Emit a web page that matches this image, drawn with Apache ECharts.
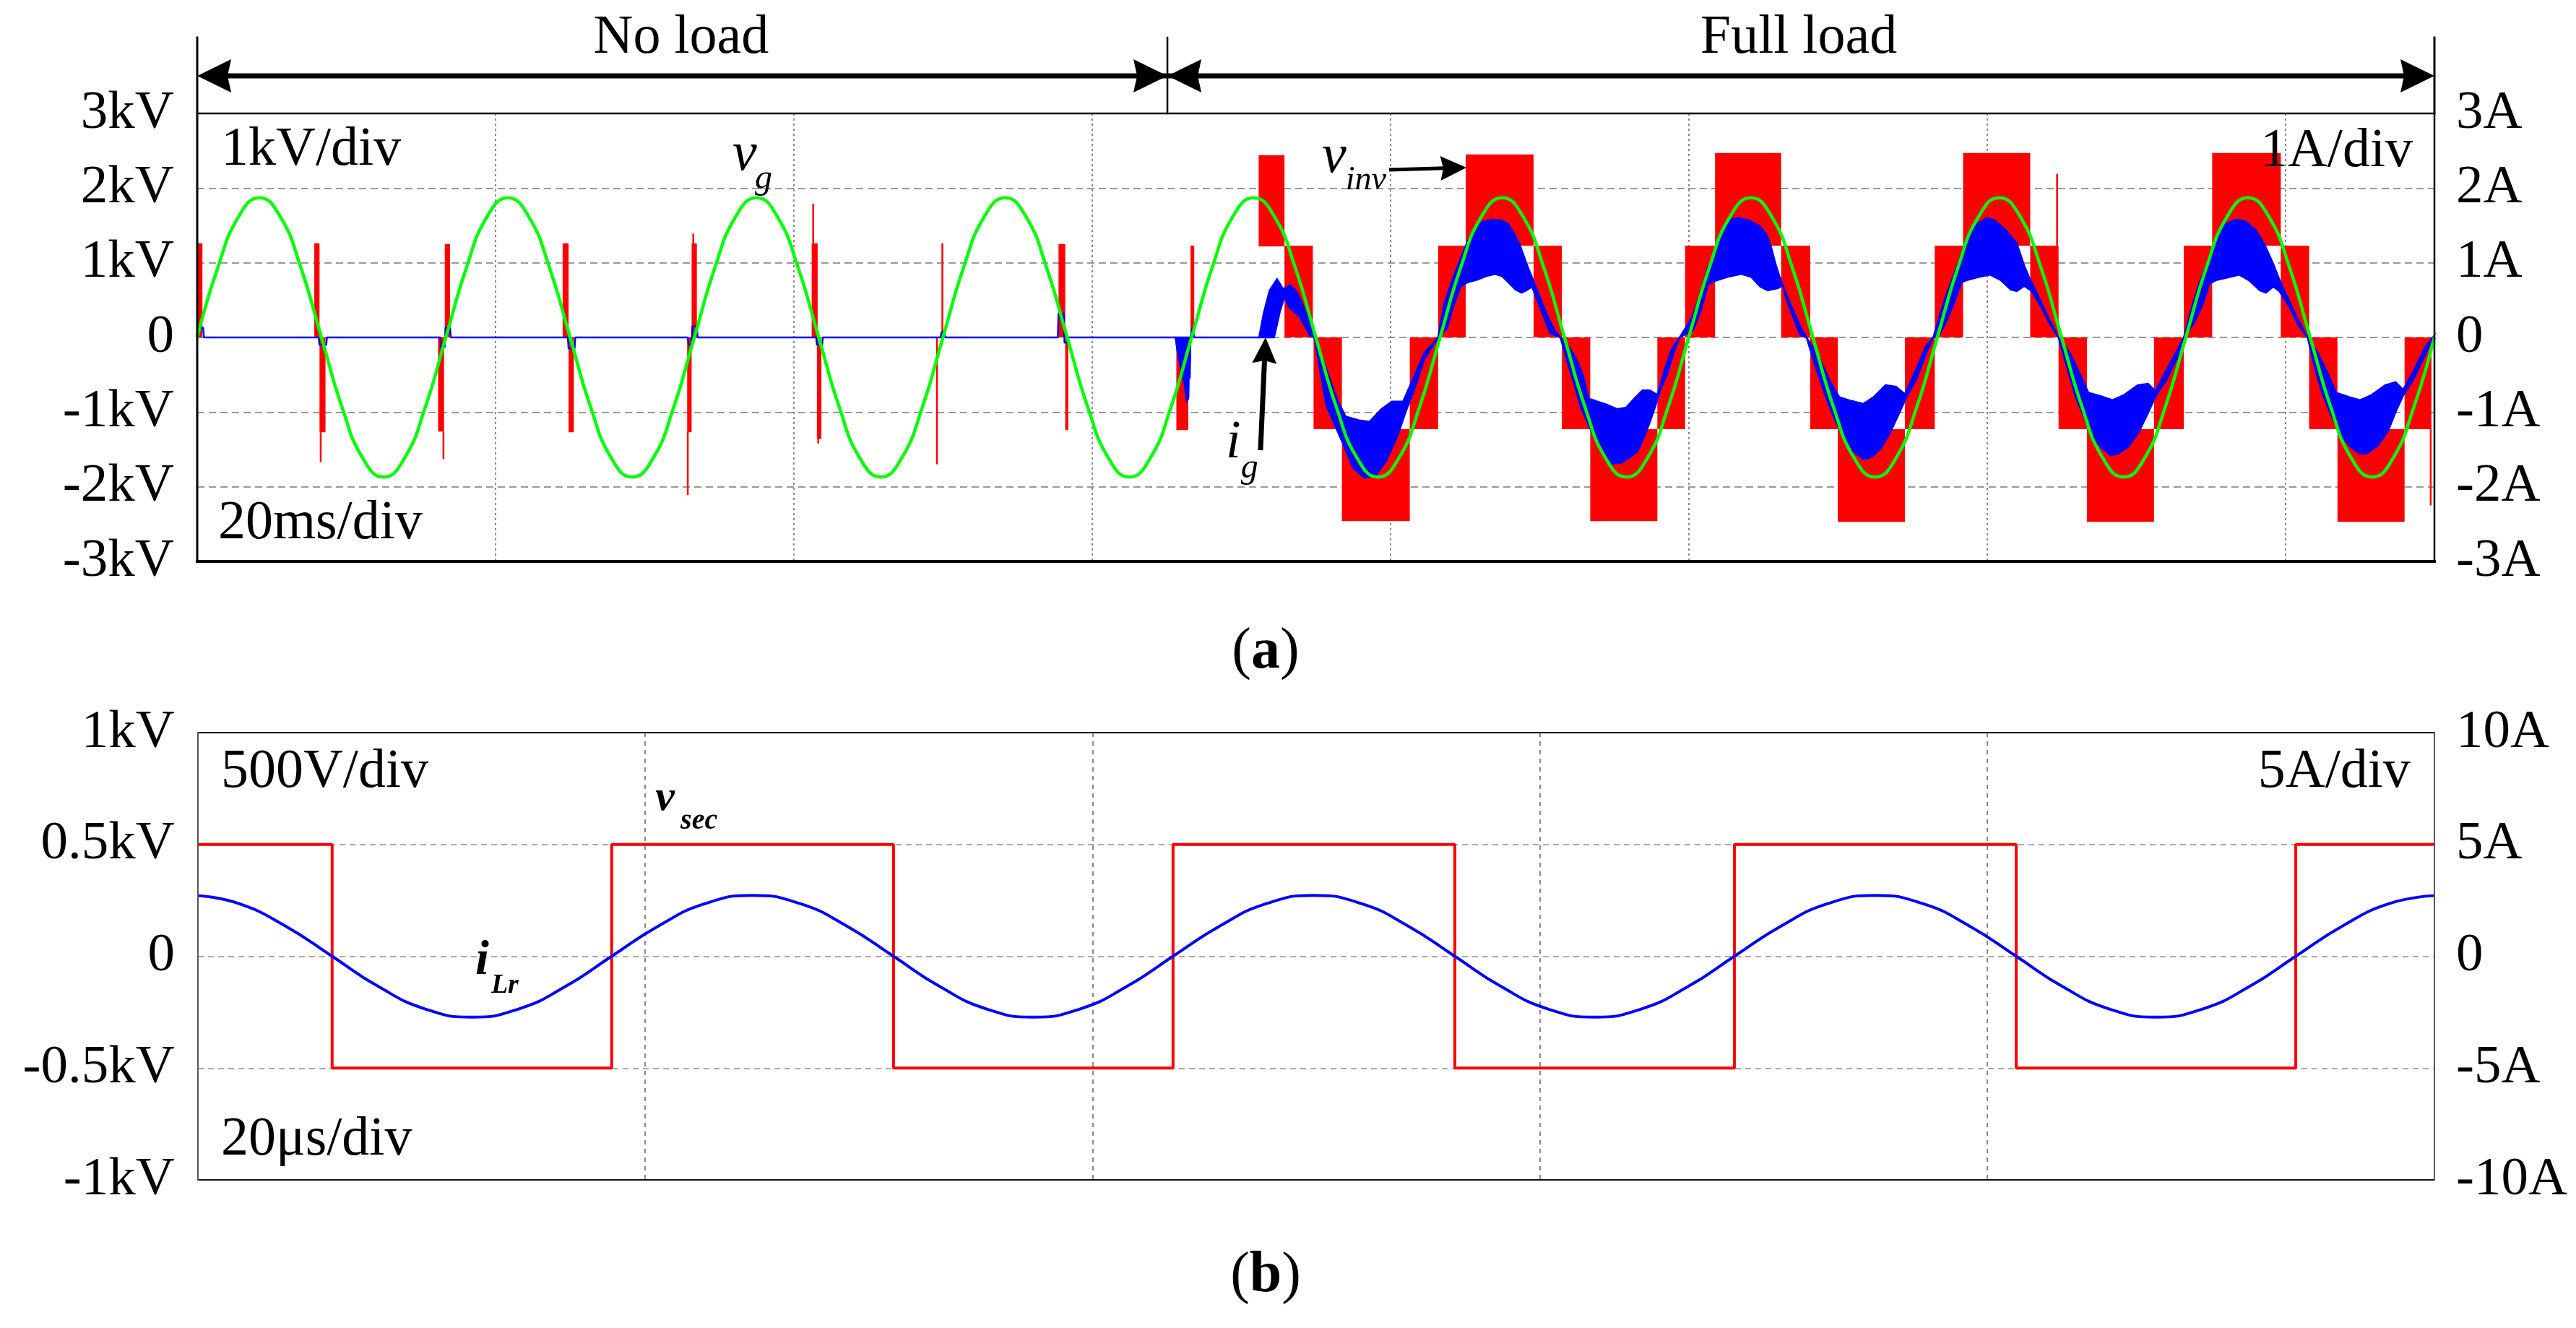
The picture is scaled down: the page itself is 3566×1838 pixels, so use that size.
<!DOCTYPE html>
<html><head><meta charset="utf-8">
<script src="https://cdn.jsdelivr.net/npm/echarts@6/dist/echarts.min.js"></script>
<style>html,body{margin:0;padding:0;background:#fff}#c{width:3566px;height:1838px}</style>
</head><body><div id="c"></div>
<script>
// ---------- tick labels ----------
const topLeftLabels = ['-3kV','-2kV','-1kV','0','1kV','2kV','3kV'];
const topRightLabels = ['-3A','-2A','-1A','0','1A','2A','3A'];
const botLeftLabels = ['-1kV','-0.5kV','0','0.5kV','1kV'];
const botRightLabels = ['-10A','-5A','0','5A','10A'];

// ---------- (a) grid voltage v_g [ms, kV] ----------
const vgData = [
 [0,0],[1.39,0.94],[2.78,1.62],[4.17,1.87],[5.56,1.62],[6.94,0.94],[8.33,0],[9.72,-0.94],[11.11,-1.62],[12.5,-1.87],[13.89,-1.62],[15.28,-0.94],
 [16.67,0],[18.06,0.94],[19.44,1.62],[20.83,1.87],[22.22,1.62],[23.61,0.94],[25,0],[26.39,-0.94],[27.78,-1.62],[29.17,-1.87],[30.56,-1.62],[31.94,-0.94],
 [33.33,0],[34.72,0.94],[36.11,1.62],[37.5,1.87],[38.89,1.62],[40.28,0.94],[41.67,0],[43.06,-0.94],[44.44,-1.62],[45.83,-1.87],[47.22,-1.62],[48.61,-0.94],
 [50,0],[51.39,0.94],[52.78,1.62],[54.17,1.87],[55.56,1.62],[56.94,0.94],[58.33,0],[59.72,-0.94],[61.11,-1.62],[62.5,-1.87],[63.89,-1.62],[65.28,-0.94],
 [66.67,0],[68.06,0.94],[69.44,1.62],[70.83,1.87],[72.22,1.62],[73.61,0.94],[75,0],[76.39,-0.94],[77.78,-1.62],[79.17,-1.87],[80.56,-1.62],[81.94,-0.94],
 [83.33,0],[84.72,0.94],[86.11,1.62],[87.5,1.87],[88.89,1.62],[90.28,0.94],[91.67,0],[93.06,-0.94],[94.44,-1.62],[95.83,-1.87],[97.22,-1.62],[98.61,-0.94],
 [100,0],[101.39,0.94],[102.78,1.62],[104.17,1.87],[105.56,1.62],[106.94,0.94],[108.33,0],[109.72,-0.94],[111.11,-1.62],[112.5,-1.87],[113.89,-1.62],[115.28,-0.94],
 [116.67,0],[118.06,0.94],[119.44,1.62],[120.83,1.87],[122.22,1.62],[123.61,0.94],[125,0],[126.39,-0.94],[127.78,-1.62],[129.17,-1.87],[130.56,-1.62],[131.94,-0.94],
 [133.33,0],[134.72,0.94],[136.11,1.62],[137.5,1.87],[138.89,1.62],[140.28,0.94],[141.67,0],[143.06,-0.94],[144.44,-1.62],[145.83,-1.87],[147.22,-1.62],[148.61,-0.94],
 [150,0]
];

// ---------- (a) inverter voltage v_inv blocks [t0 ms, t1 ms, vLow kV, vHigh kV] ----------
const vinvNoLoad = [
 [0.05,0.35,0,1.26],
 [7.85,8.2,0,1.26],[8.2,8.6,-1.27,0],[8.24,8.32,-1.67,-1.27],
 [16.15,16.55,-1.26,0],[16.47,16.55,-1.63,-1.26],[16.6,16.95,0,1.25],
 [24.5,24.9,0,1.26],[24.9,25.25,-1.27,0],
 [32.85,33.15,-1.27,0],[32.85,32.93,-2.11,-1.27],[33.15,33.5,0,1.26],[33.22,33.3,1.26,1.39],
 [41.2,41.6,0,1.26],[41.26,41.34,1.26,1.79],[41.55,41.85,-1.36,0],[41.6,41.68,-1.42,-1.36],
 [49.55,49.65,-1.7,0],[49.9,50.02,0,1.26],
 [57.75,58.2,0,1.25],[58.2,58.4,-1.24,0],
 [65.65,66.45,-1.24,0],[66.6,66.85,0,1.23]
];
const vinvFullLoad = [
 [71.17,72.9,1.22,2.44],[72.9,74.8,0,1.23],
 [74.85,76.75,-1.23,0],[76.75,81.3,-2.46,-1.23],[81.3,83.2,-1.23,0],
 [83.2,85.05,0,1.23],[85.05,89.6,1.23,2.45],[89.6,91.5,0,1.23],
 [91.5,93.4,-1.23,0],[93.4,97.9,-2.46,-1.23],[97.9,99.76,-1.23,0],
 [99.76,101.77,0,1.23],[101.77,106.2,1.23,2.47],[106.2,108.15,0,1.23],
 [108.15,110.0,-1.23,0],[110.0,114.5,-2.47,-1.23],[114.5,116.5,-1.23,0],
 [116.5,118.4,0,1.23],[118.4,122.9,1.23,2.47],[122.9,124.8,0,1.23],[124.65,124.75,1.23,2.19],
 [124.8,126.7,-1.23,0],[126.7,131.2,-2.47,-1.23],[131.2,133.2,-1.23,0],
 [133.2,135.1,0,1.23],[135.1,139.7,1.23,2.47],[139.7,141.6,0,1.23],
 [141.6,143.5,-1.23,0],[143.5,148.0,-2.47,-1.23],[148.0,149.8,-1.23,0],[149.7,149.8,-2.25,-1.23]
];

// ---------- (a) grid current i_g [ms, A] ----------
const igNoLoad = [
 [0,0],[0.02,0.13],[0.4,0.13],[0.45,0],[8.15,0],[8.2,-0.1],[8.65,-0.1],[8.7,0],
 [16.3,0],[16.35,-0.13],[16.6,-0.13],[16.65,0.13],[16.95,0.13],[17.0,0],
 [24.85,0],[24.9,-0.15],[25.3,-0.15],[25.35,0],
 [32.9,0],[32.95,-0.1],[33.15,-0.1],[33.2,0.15],[33.5,0.15],[33.55,0],
 [41.5,0],[41.55,-0.1],[41.9,-0.1],[41.95,0],
 [49.85,0],[49.9,0.07],[50.1,0.07],[50.15,0],
 [57.7,0],[57.75,0.32],[58.1,0.32],[58.15,-0.07],[58.35,-0.07],[58.4,0],
 [65.6,0],[65.75,-0.2],[66.0,-0.45],[66.2,-0.6],[66.35,-0.85],[66.45,-0.8],[66.5,0],[66.55,-0.55],[66.6,0],[66.7,0.13],[66.85,0],
 [71.2,0]
];
// filled dip of i_g just before full load [ms, upper A, lower A]
const igDip = [[65.6,0,0],[65.75,0,-0.22],[66.0,0,-0.45],[66.2,0,-0.62],[66.35,0,-0.85],[66.45,0,-0.82],[66.5,0,0]];
const igUpper = [
 [71.2,0],[71.5,0.32],[71.9,0.63],[72.4,0.78],[72.8,0.65],[73.3,0.7],[73.7,0.62],[74.1,0.45],[74.5,0.24],[74.9,0],
 [75.7,-0.42],[76.4,-0.82],[77.0,-1.06],[77.9,-1.11],[78.6,-1.13],[79.4,-0.96],[80.1,-0.86],[80.85,-0.86],[81.4,-0.61],[82.3,-0.2],[83.2,0],
 [83.6,0.45],[84.2,0.8],[84.7,1.05],[85.2,1.3],[85.7,1.46],[86.2,1.55],[86.8,1.58],[87.4,1.57],[87.9,1.52],[88.3,1.39],[88.7,1.23],[89.1,1.0],[89.5,0.8],[90.0,0.55],[90.5,0.3],[91.0,0.1],[91.4,0],
 [91.9,-0.11],[92.4,-0.26],[92.9,-0.5],[93.3,-0.82],[93.9,-0.86],[94.5,-0.9],[95.2,-0.96],[95.8,-0.94],[96.4,-0.81],[96.9,-0.71],[97.4,-0.71],[97.9,-0.77],[98.4,-0.42],[98.9,-0.14],[99.4,0],
 [100.2,0.26],[100.65,0.51],[101.3,0.94],[101.8,1.16],[102.3,1.42],[102.9,1.59],[103.4,1.6],[104.0,1.57],[104.7,1.5],[105.2,1.39],[105.5,1.23],[105.8,1.0],[106.1,0.81],[106.6,0.55],[107.1,0.32],[107.6,0.1],[107.9,0],
 [108.7,-0.25],[109.5,-0.6],[110.1,-0.8],[110.9,-0.85],[111.7,-0.89],[112.4,-0.8],[113.2,-0.64],[113.9,-0.66],[114.5,-0.76],[115.2,-0.45],[115.9,-0.12],[116.4,0],
 [117.1,0.47],[117.65,0.77],[118.2,1.06],[118.7,1.36],[119.3,1.51],[120.0,1.6],[120.5,1.57],[121.3,1.43],[122.0,1.26],[122.5,0.96],[122.9,0.77],[123.4,0.57],[124.1,0.27],[124.8,0],
 [125.6,-0.22],[126.3,-0.52],[126.8,-0.74],[127.7,-0.79],[128.4,-0.84],[129.2,-0.77],[130.1,-0.64],[130.8,-0.62],[131.3,-0.72],[132.0,-0.45],[132.8,-0.15],[133.2,0],
 [133.8,0.45],[134.3,0.76],[134.9,1.05],[135.4,1.35],[136.0,1.52],[136.7,1.58],[137.3,1.56],[138.0,1.44],[138.6,1.25],[139.2,0.98],[139.6,0.78],[140.1,0.56],[140.8,0.26],[141.5,0],
 [142.2,-0.22],[142.9,-0.5],[143.4,-0.74],[144.3,-0.8],[145.0,-0.84],[145.8,-0.77],[146.7,-0.64],[147.4,-0.6],[147.9,-0.7],[148.6,-0.45],[149.4,-0.12],[149.9,0]
];
const igLower = [
 [71.2,0],[72.2,0],[72.6,0.35],[72.9,0.55],[73.15,0.42],[73.5,0.35],[73.9,0.28],[74.3,0.14],[74.6,0.03],[74.9,0],
 [75.7,-0.91],[76.8,-1.41],[77.5,-1.75],[78.25,-1.88],[79.0,-1.85],[79.7,-1.66],[80.5,-1.31],[81.0,-1.01],[81.6,-0.7],[82.3,-0.28],[83.2,0],
 [83.8,0.12],[84.2,0.4],[84.7,0.68],[85.2,0.74],[85.8,0.77],[86.4,0.82],[87.0,0.85],[87.5,0.82],[88.0,0.72],[88.4,0.64],[88.8,0.6],[89.2,0.64],[89.5,0.68],[89.8,0.52],[90.2,0.32],[90.7,0.06],[91.4,0],
 [91.9,-0.35],[92.35,-0.64],[92.75,-0.93],[93.2,-1.13],[93.7,-1.36],[94.2,-1.55],[94.8,-1.69],[95.5,-1.68],[96.1,-1.6],[96.6,-1.52],[97.1,-1.29],[97.4,-1.13],[97.75,-0.93],[98.1,-0.7],[98.55,-0.5],[99.0,-0.2],[99.4,0],
 [100.3,0.1],[100.8,0.35],[101.3,0.71],[101.8,0.76],[102.6,0.81],[103.5,0.85],[104.2,0.81],[104.8,0.68],[105.3,0.63],[106.0,0.66],[106.3,0.7],[106.6,0.48],[107.1,0.22],[107.5,0.03],[107.9,0],
 [108.6,-0.45],[109.2,-0.8],[109.8,-1.1],[110.4,-1.35],[111.0,-1.52],[111.7,-1.63],[112.3,-1.6],[112.9,-1.48],[113.5,-1.28],[114.1,-1.02],[114.6,-0.8],[115.3,-0.55],[115.9,-0.22],[116.4,0],
 [116.75,0.02],[117.3,0.22],[117.8,0.47],[118.3,0.74],[118.7,0.77],[119.45,0.81],[120.2,0.84],[120.9,0.77],[121.6,0.64],[122.0,0.62],[122.5,0.69],[123.0,0.62],[123.6,0.42],[124.3,0.15],[124.8,0],
 [125.4,-0.42],[125.9,-0.77],[126.5,-1.06],[127.0,-1.31],[127.7,-1.48],[128.3,-1.58],[128.8,-1.56],[129.5,-1.46],[130.2,-1.26],[130.8,-1.01],[131.3,-0.79],[132.0,-0.58],[132.8,-0.25],[133.2,0],
 [133.9,0.2],[134.5,0.46],[134.9,0.72],[135.4,0.77],[136.1,0.8],[136.9,0.84],[137.6,0.76],[138.3,0.63],[138.7,0.6],[139.2,0.68],[139.6,0.62],[140.3,0.4],[140.9,0.16],[141.5,0],
 [142.0,-0.42],[142.5,-0.76],[143.1,-1.05],[143.7,-1.3],[144.4,-1.47],[145.0,-1.56],[145.5,-1.55],[146.2,-1.45],[146.9,-1.25],[147.4,-1.0],[147.9,-0.78],[148.6,-0.56],[149.4,-0.22],[149.9,0]
];

// ---------- (b) secondary voltage v_sec [us, kV] (level held until next point) ----------
const vsecData = [[0,0.5],[6.0,-0.5],[18.5,0.5],[31.1,-0.5],[43.6,0.5],[56.2,-0.5],[68.7,0.5],[81.3,-0.5],[93.8,0.5],[100,0.5]];
// ---------- (b) resonant current i_Lr [us, A] ----------
const iLrData = [
 [0,2.71],[1.81,2.36],[3.9,1.36],[6.0,0],
 [8.08,-1.36],[10.17,-2.36],[12.25,-2.72],[14.33,-2.36],[16.42,-1.36],[18.5,0],
 [20.6,1.36],[22.7,2.36],[24.8,2.72],[26.9,2.36],[29.0,1.36],[31.1,0],
 [33.18,-1.36],[35.27,-2.36],[37.35,-2.72],[39.43,-2.36],[41.52,-1.36],[43.6,0],
 [45.7,1.36],[47.8,2.36],[49.9,2.72],[52.0,2.36],[54.1,1.36],[56.2,0],
 [58.28,-1.36],[60.37,-2.36],[62.45,-2.72],[64.53,-2.36],[66.62,-1.36],[68.7,0],
 [70.8,1.36],[72.9,2.36],[75.0,2.72],[77.1,2.36],[79.2,1.36],[81.3,0],
 [83.38,-1.36],[85.47,-2.36],[87.55,-2.72],[89.63,-2.36],[91.72,-1.36],[93.8,0],
 [95.9,1.36],[98.0,2.36],[100,2.71]
];

// ---------- chart ----------
const FONT = 'Liberation Serif';
const LS = {fontFamily: FONT, fontSize: 75, color: '#000'};
const chart = echarts.init(document.getElementById('c'), null, {renderer: 'canvas', width: 3566, height: 1838});

const noAx = {show: false};
function bandRender(up, lo) {
  return function (params, api) {
    const pts = [];
    for (let i = 0; i < up.length; i++) pts.push(api.coord(up[i]));
    for (let i = lo.length - 1; i >= 0; i--) pts.push(api.coord(lo[i]));
    return {type: 'polygon', shape: {points: pts}, style: {fill: '#0000ff', stroke: '#0000ff', lineWidth: 2.5}};
  };
}
const option = {
  animation: false,
  backgroundColor: '#ffffff',
  textStyle: {fontFamily: FONT},
  grid: [
    {left: 273, top: 157, width: 3097, height: 620, show: false, outerBoundsMode: 'none', containLabel: false},
    {left: 274, top: 1014, width: 3096, height: 619, show: false, outerBoundsMode: 'none', containLabel: false}
  ],
  xAxis: [
    {type: 'value', gridIndex: 0, min: 0, max: 150, interval: 20,
     axisLine: noAx, axisTick: noAx, axisLabel: noAx,
     splitLine: {show: true, lineStyle: {color: '#888', width: 2, type: [3, 4]}}},
    {type: 'value', gridIndex: 1, min: 0, max: 100, interval: 20,
     axisLine: noAx, axisTick: noAx, axisLabel: noAx,
     splitLine: {show: true, lineStyle: {color: '#888', width: 2, type: [6, 6]}}}
  ],
  yAxis: [
    {type: 'value', gridIndex: 0, position: 'left', min: -3, max: 3, interval: 1,
     axisLine: noAx, axisTick: noAx,
     axisLabel: Object.assign({margin: 32, formatter: v => topLeftLabels[Math.round(v + 3)]}, LS),
     splitLine: {show: true, lineStyle: {color: '#999', width: 2, type: [10, 6]}}},
    {type: 'value', gridIndex: 0, position: 'right', min: -3, max: 3, interval: 1,
     axisLine: noAx, axisTick: noAx,
     axisLabel: Object.assign({margin: 30, formatter: v => topRightLabels[Math.round(v + 3)]}, LS),
     splitLine: noAx},
    {type: 'value', gridIndex: 1, position: 'left', min: -1, max: 1, interval: 0.5,
     axisLine: noAx, axisTick: noAx,
     axisLabel: Object.assign({margin: 32, formatter: v => botLeftLabels[Math.round((v + 1) * 2)]}, LS),
     splitLine: {show: true, lineStyle: {color: '#aaa', width: 2, type: [8, 6]}}},
    {type: 'value', gridIndex: 1, position: 'right', min: -10, max: 10, interval: 5,
     axisLine: noAx, axisTick: noAx,
     axisLabel: Object.assign({margin: 30, formatter: v => botRightLabels[Math.round((v + 10) / 5)]}, LS),
     splitLine: noAx}
  ],
  series: [
    {type: 'custom', name: 'v_inv', xAxisIndex: 0, yAxisIndex: 0, z: 2, silent: true,
     encode: {x: [0, 1], y: [2, 3]},
     data: vinvNoLoad.concat(vinvFullLoad),
     renderItem: function (params, api) {
       const p0 = api.coord([api.value(0), api.value(3)]);
       const p1 = api.coord([api.value(1), api.value(2)]);
       let x = p0[0], w = p1[0] - p0[0];
       if (w < 2.5) { x -= (2.5 - w) / 2; w = 2.5; }
       return {type: 'rect', shape: {x: x, y: p0[1], width: w, height: p1[1] - p0[1]}, style: {fill: '#ff0000'}};
     }},
    {type: 'custom', name: 'i_g band', xAxisIndex: 0, yAxisIndex: 1, z: 3, silent: true,
     encode: {x: 0, y: 1}, data: [igUpper[0]], renderItem: bandRender(igUpper, igLower)},
    {type: 'custom', name: 'i_g dip', xAxisIndex: 0, yAxisIndex: 1, z: 3, silent: true,
     encode: {x: 0, y: 1}, data: [[igDip[0][0], 0]],
     renderItem: bandRender(igDip.map(d => [d[0], d[1]]), igDip.map(d => [d[0], d[2]]))},
    {type: 'line', name: 'i_g', xAxisIndex: 0, yAxisIndex: 1, z: 3, silent: true, data: igNoLoad,
     symbol: 'none', lineStyle: {color: '#0000ff', width: 2.5}},
    {type: 'line', name: 'v_g', xAxisIndex: 0, yAxisIndex: 0, z: 4, silent: true, data: vgData,
     smooth: 0.5, symbol: 'none', lineStyle: {color: '#00ff00', width: 4.5}},
    {type: 'line', name: 'v_sec', xAxisIndex: 1, yAxisIndex: 2, z: 3, silent: true, data: vsecData,
     step: 'end', symbol: 'none', lineStyle: {color: '#ff0000', width: 4}},
    {type: 'line', name: 'i_Lr', xAxisIndex: 1, yAxisIndex: 3, z: 4, silent: true, data: iLrData,
     smooth: 0.5, symbol: 'none', lineStyle: {color: '#0000ff', width: 4}}
  ]
};
chart.setOption(option);

// ---------- annotations (placed through the axes' scales) ----------
const A = (t, v) => chart.convertToPixel({xAxisIndex: 0, yAxisIndex: 0}, [t, v]);
const B = (t, v) => chart.convertToPixel({xAxisIndex: 1, yAxisIndex: 2}, [t, v]);
function T(p, text, size, o) {
  o = o || {};
  const f = (o.italic ? 'italic ' : 'normal ') + (o.bold ? 'bold ' : 'normal ') + size + 'px "' + FONT + '"';
  return {type: 'text', x: p[0], y: p[1] - 0.29 * size, z: 50, silent: true,
    style: {text: text, fill: '#000', font: f, align: o.align || 'left', verticalAlign: 'middle'}};
}
function head(tip, ux, uy, len, half, notch) {
  const px = -uy, py = ux;
  const bx = tip[0] - ux * len, by = tip[1] - uy * len;
  const nx = tip[0] - ux * (len - notch), ny = tip[1] - uy * (len - notch);
  return {type: 'polygon', z: 50, silent: true,
    shape: {points: [[tip[0], tip[1]], [bx + px * half, by + py * half], [nx, ny], [bx - px * half, by - py * half]]},
    style: {fill: '#000'}};
}
function arrow(p0, p1, width, len, half, notch) {
  const dx = p1[0] - p0[0], dy = p1[1] - p0[1], L = Math.hypot(dx, dy);
  const ux = dx / L, uy = dy / L;
  const ex = p1[0] - ux * (len - notch - 2), ey = p1[1] - uy * (len - notch - 2);
  return [
    {type: 'line', z: 50, silent: true, shape: {x1: p0[0], y1: p0[1], x2: ex, y2: ey}, style: {stroke: '#000', lineWidth: width}},
    head(p1, ux, uy, len, half, notch)
  ];
}
function seg(p0, p1, w, c) {
  return {type: 'line', z: 45, silent: true, shape: {x1: p0[0], y1: p0[1], x2: p1[0], y2: p1[1]}, style: {stroke: c || '#000', lineWidth: w, lineCap: 'square'}};
}
function richLabel(p, letter, size) {
  return {type: 'text', x: p[0], y: p[1] - 0.34 * size, z: 50, silent: true,
    style: {text: '({b|' + letter + '})', fill: '#000', fontSize: size, fontFamily: FONT, align: 'center', verticalAlign: 'middle',
      rich: {b: {fontWeight: 'bold', fontSize: size, fontFamily: FONT, fill: '#000'}}}};
}

const g = [];
// panel (a) frame
g.push(seg(A(0, 3), A(150, 3), 2.5));
g.push(seg(A(150, 3), A(150, -3), 2.5));
g.push(seg(A(0, -3), A(150, -3), 4));
g.push(seg(A(0, 4.016), A(0, -3), 3));
g.push(seg(A(150, 4.016), A(150, 3), 3));
g.push(seg(A(65.05, 4.016), A(65.05, 3), 2.5));
// panel (b) frame
g.push(seg(B(0, 1), B(100, 1), 2, '#111'));
g.push(seg(B(0, -1), B(100, -1), 2, '#111'));
g.push(seg(B(0, 1), B(0, -1), 2, '#555'));
g.push(seg(B(100, 1), B(100, -1), 2, '#555'));
// top double arrows
{
  const yArr = 3.503;
  const l = A(0, yArr), m = A(65.05, yArr), r = A(150, yArr);
  g.push({type: 'line', z: 50, silent: true, shape: {x1: l[0] + 30, y1: l[1], x2: r[0] - 30, y2: r[1]}, style: {stroke: '#000', lineWidth: 7}});
  g.push(head(l, -1, 0, 47, 23, 5));
  g.push(head(m, 1, 0, 47, 23, 5));
  g.push(head(m, -1, 0, 47, 23, 5));
  g.push(head(r, 1, 0, 47, 23, 5));
}
g.push(T(A(32.45, 3.794), 'No load', 76, {align: 'center'}));
g.push(T(A(107.38, 3.794), 'Full load', 76, {align: 'center'}));
g.push(T(A(1.6, 2.294), '1kV/div', 76));
g.push(T(A(148.55, 2.274), '1A/div', 76, {align: 'right'}));
g.push(T(A(1.4, -2.71), '20ms/div', 76));
// v_g
g.push(T(A(35.89, 2.226), 'v', 76, {italic: true}));
g.push(T(A(37.39, 1.984), 'g', 48, {italic: true}));
// v_inv
g.push(T(A(75.41, 2.197), 'v', 76, {italic: true}));
g.push(T(A(77.0, 1.974), 'inv', 46, {italic: true}));
g.push.apply(g, arrow(A(79.92, 2.245), A(85.1, 2.274), 5, 36, 17, 4));
// i_g
g.push(T(A(68.97, -1.626), 'i', 74, {italic: true}));
g.push(T(A(69.98, -1.887), 'g', 48, {italic: true}));
g.push.apply(g, arrow(A(71.29, -1.51), A(71.63, 0.0), 7, 36, 17, 4));
// (a)
g.push(richLabel(A(71.63, -4.481), 'a', 80));
// panel (b)
g.push(T(B(1.03, 0.751), '500V/div', 76));
g.push(T(B(98.93, 0.751), '5A/div', 76, {align: 'right'}));
g.push(T(B(1.03, -0.893), '20\u03bcs/div', 76));
g.push(T(B(20.45, 0.648), 'v', 60, {italic: true, bold: true}));
g.push(T(B(21.58, 0.567), 'sec', 40, {italic: true, bold: true}));
g.push(T(B(12.4, -0.086), 'i', 68, {italic: true, bold: true}));
g.push(T(B(13.11, -0.166), 'Lr', 38, {italic: true, bold: true}));
g.push(richLabel(B(47.74, -1.52), 'b', 80));

chart.setOption({graphic: g});
</script></body></html>
